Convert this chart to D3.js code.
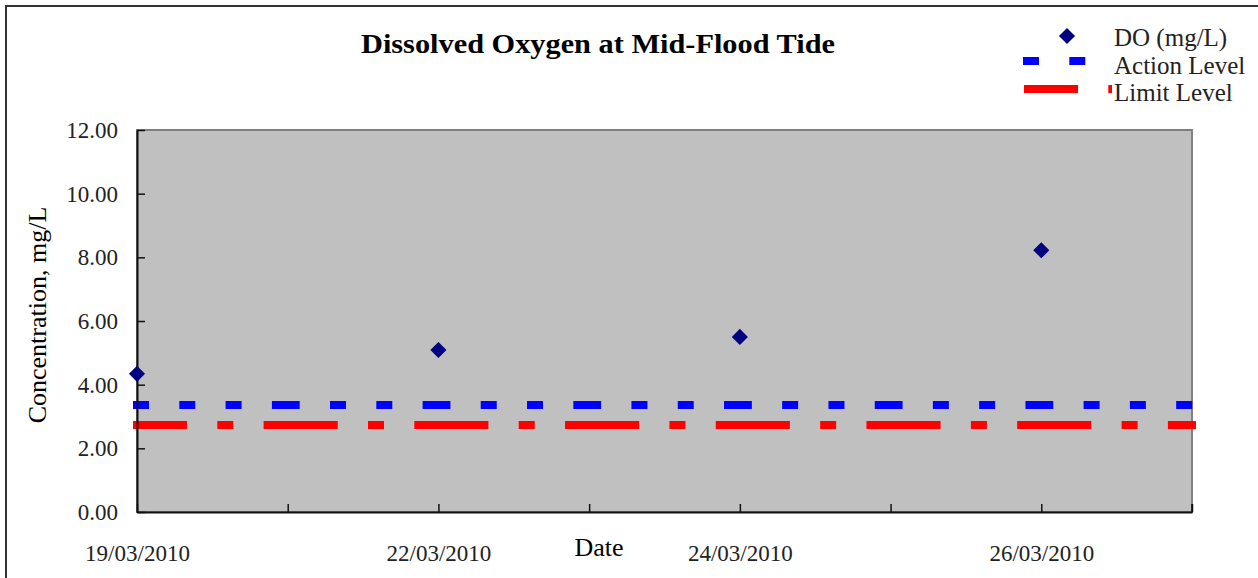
<!DOCTYPE html>
<html>
<head>
<meta charset="utf-8">
<script src="https://cdn.jsdelivr.net/npm/d3@7"></script>
<style>
  body { margin: 0; background: #fff; }
  text { font-family: "Liberation Serif", "Times New Roman", serif; fill: #222; }
</style>
</head>
<body>
<svg id="chart" width="1258" height="578"></svg>
<script>
// *** Data ***
var tickLabels = ["19/03/2010", "", "22/03/2010", "", "24/03/2010", "", "26/03/2010", ""];
var doIndex = [0, 2, 4, 6];
var doValues = [4.34, 5.09, 5.50, 8.22];
var actionLevel = [3.36, 3.36, 3.36, 3.36, 3.36, 3.36, 3.36, 3.36];
var limitLevel = [2.73, 2.73, 2.73, 2.73, 2.73, 2.73, 2.73, 2.73];
var yTicks = [0, 2, 4, 6, 8, 10, 12];
var legendNames = ["DO (mg/L)", "Action Level", "Limit Level"];

// *** Chart ***
var svg = d3.select("#chart");

// outer chart border
svg.append("rect")
    .attr("x", 6).attr("y", 6)
    .attr("width", 1400).attr("height", 700)
    .attr("fill", "none")
    .attr("stroke", "#333")
    .attr("stroke-width", 2);

var margin = {top: 130, left: 137, right: 66, bottom: 66},
    width = 1258 - margin.left - margin.right,
    height = 578 - margin.top - margin.bottom;

var x = d3.scaleLinear().domain([0, tickLabels.length - 1]).range([0, width]);
var y = d3.scaleLinear().domain([0, 12]).range([height, 0]);

var g = svg.append("g")
    .attr("transform", "translate(" + margin.left + "," + margin.top + ")");

// plot area
g.append("rect")
    .attr("width", width).attr("height", height)
    .attr("fill", "#c0c0c0")
    .attr("stroke", "#808080")
    .attr("stroke-width", 2);

// level lines, drawn segment by segment so the dash pattern restarts at each category (like Excel)
function drawLevel(values, color, dash) {
    for (var i = 0; i < values.length - 1; i++) {
        g.append("line")
            .attr("x1", x(i)).attr("y1", y(values[i]))
            .attr("x2", x(i + 1)).attr("y2", y(values[i + 1]))
            .attr("stroke", color)
            .attr("stroke-width", 8)
            .attr("stroke-linecap", "square")
            .attr("stroke-dasharray", dash);
    }
}
drawLevel(limitLevel, "#ff0000", "46,38.3,8,38.3");
drawLevel(actionLevel, "#0000ff", "8,38.3");

// axes
var yAxis = d3.axisLeft(y).tickValues(yTicks).tickFormat(d3.format(".2f")).tickSizeInner(-8).tickSizeOuter(0).tickPadding(19);
var xAxis = d3.axisBottom(x).tickValues(d3.range(tickLabels.length))
    .tickFormat(function (d) { return tickLabels[d] || ""; }).tickSizeInner(-8).tickSizeOuter(0).tickPadding(33);

var yAxisG = g.append("g").call(yAxis);
var xAxisG = g.append("g").attr("transform", "translate(0," + height + ")").call(xAxis);

[yAxisG, xAxisG].forEach(function (a) {
    a.select(".domain").attr("stroke", "#111").attr("stroke-width", 2);
    a.selectAll(".tick line").attr("stroke", "#111").attr("stroke-width", 1.5);
    a.selectAll("text").attr("font-family", "Liberation Serif").attr("font-size", 23).attr("fill", "#222");
});
// last x tick at right edge
g.append("line")
    .attr("x1", x(7)).attr("x2", x(7)).attr("y1", height).attr("y2", height - 8)
    .attr("stroke", "#111").attr("stroke-width", 1.5);

// DO points
var diamond = d3.symbol().type(d3.symbolDiamond2).size(165);
g.selectAll(".pt").data(doValues).enter().append("path")
    .attr("class", "pt")
    .attr("d", diamond)
    .attr("transform", function (d, i) { return "translate(" + x(doIndex[i]) + "," + y(d) + ")"; })
    .attr("fill", "#000080");

// titles
svg.append("text")
    .attr("x", 598).attr("y", 53)
    .attr("text-anchor", "middle")
    .attr("font-size", 28).attr("font-weight", "bold").style("fill", "#000")
    .attr("textLength", 474).attr("lengthAdjust", "spacingAndGlyphs")
    .text("Dissolved Oxygen at Mid-Flood Tide");

svg.append("text")
    .attr("x", 599).attr("y", 556)
    .attr("text-anchor", "middle")
    .attr("font-size", 26).style("fill", "#000")
    .text("Date");

svg.append("text")
    .attr("transform", "translate(46," + 315 + ") rotate(-90)")
    .attr("text-anchor", "middle")
    .attr("font-size", 26).style("fill", "#000")
    .text("Concentration, mg/L");

// legend
var legend = svg.append("g");
svg.append("clipPath").attr("id", "legclip")
    .append("rect").attr("x", 1000).attr("y", 0).attr("width", 112).attr("height", 120);

legend.append("path")
    .attr("d", diamond)
    .attr("transform", "translate(1067,36)")
    .attr("fill", "#000080");
legend.append("line")
    .attr("x1", 1027).attr("x2", 1107).attr("y1", 61).attr("y2", 61)
    .attr("stroke", "#0000ff").attr("stroke-width", 8)
    .attr("stroke-linecap", "square").attr("stroke-dasharray", "8,38.3");
legend.append("line")
    .attr("clip-path", "url(#legclip)")
    .attr("x1", 1028).attr("x2", 1114).attr("y1", 89).attr("y2", 89)
    .attr("stroke", "#ff0000").attr("stroke-width", 8)
    .attr("stroke-linecap", "square").attr("stroke-dasharray", "46,38.3,8,38.3");

legend.selectAll(".lt").data(legendNames).enter().append("text")
    .attr("class", "lt")
    .attr("x", 1114)
    .attr("y", function (d, i) { return 46 + i * 27.5; })
    .attr("font-size", 25)
    .text(function (d) { return d; });
</script>
</body>
</html>
